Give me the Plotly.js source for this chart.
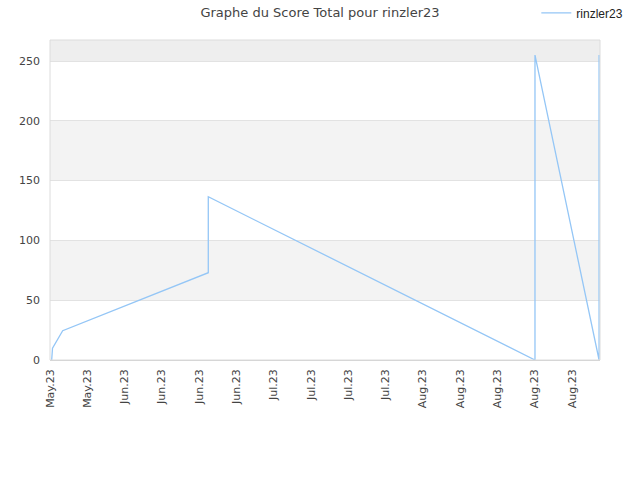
<!DOCTYPE html>
<html>
<head>
<meta charset="utf-8">
<script src="https://cdn.plot.ly/plotly-3.0.1.min.js"></script>
<style>
  html, body { margin: 0; padding: 0; background: #fff; }
  #plot { width: 640px; height: 480px; }
</style>
</head>
<body>
<div id="plot"></div>
<script>
// jours depuis le début de l'axe, et score total
var jours = [0.36, 0.54, 2.72, 33.96, 33.96, 104.05, 104.05, 117.8, 117.8];
var scores = [0, 9.8, 24.5, 73, 136.5, 0, 255, 0, 255];

var tickJours = [0, 8, 16, 24, 32, 40, 48, 56, 64, 72, 80, 88, 96, 104, 112];
var tickLabels = ['May.23', 'May.23', 'Jun.23', 'Jun.23', 'Jun.23', 'Jun.23', 'Jul.23', 'Jul.23',
                  'Jul.23', 'Jul.23', 'Aug.23', 'Aug.23', 'Aug.23', 'Aug.23', 'Aug.23'];

var yMax = 267.6;
var bands = [[50, 100, '#f3f3f3'], [150, 200, '#f3f3f3'], [250, yMax, '#eeeeee']];

var shapes = [];
for (var i in bands) {
    shapes.push({
        type: 'rect', xref: 'paper', yref: 'y', layer: 'below',
        x0: 0, x1: 1, y0: bands[i][0], y1: bands[i][1],
        fillcolor: bands[i][2], line: {width: 0}
    });
}
// cadre du graphe
shapes.push({
    type: 'rect', xref: 'paper', yref: 'paper', layer: 'above',
    x0: 0, x1: 1, y0: 0, y1: 1,
    line: {color: '#dcdcdc', width: 1}
});

var trace = {
    x: jours,
    y: scores,
    name: 'rinzler23',
    type: 'scatter',
    mode: 'lines',
    line: {color: 'rgb(148,198,246)', width: 1.3}
};

var layout = {
    width: 640,
    height: 480,
    margin: {l: 50, r: 40, t: 40, b: 120, autoexpand: false},
    paper_bgcolor: '#ffffff',
    plot_bgcolor: '#ffffff',
    font: {family: 'DejaVu Sans, sans-serif', size: 11, color: '#444'},
    title: {
        text: 'Graphe du Score Total pour rinzler23',
        font: {family: 'DejaVu Sans, sans-serif', size: 13, color: '#444'},
        x: 0.5, xanchor: 'center', y: 0.975, yanchor: 'middle'
    },
    showlegend: true,
    legend: {
        xref: 'container', yref: 'container',
        x: 0.838, xanchor: 'left', y: 0.973, yanchor: 'middle',
        font: {family: 'Liberation Sans, Arial, sans-serif', size: 12, color: '#222'},
        bgcolor: 'rgba(0,0,0,0)', itemwidth: 30
    },
    xaxis: {
        range: [0, 118],
        tickmode: 'array',
        tickvals: tickJours,
        ticktext: tickLabels,
        tickangle: -90,
        showgrid: false,
        zeroline: false,
        showline: false,
        ticks: '',
        ticklabelstandoff: 6,
        tickfont: {size: 11, color: '#444'}
    },
    yaxis: {
        range: [0, yMax],
        tickvals: [0, 50, 100, 150, 200, 250],
        showgrid: true,
        gridcolor: '#e2e2e2',
        zeroline: true,
        zerolinecolor: '#d0d0d0',
        showline: false,
        ticks: '',
        ticklabelstandoff: 9,
        tickfont: {size: 11, color: '#444'}
    },
    shapes: shapes
};

Plotly.newPlot('plot', [trace], layout, {displayModeBar: false, staticPlot: true});
</script>
</body>
</html>
